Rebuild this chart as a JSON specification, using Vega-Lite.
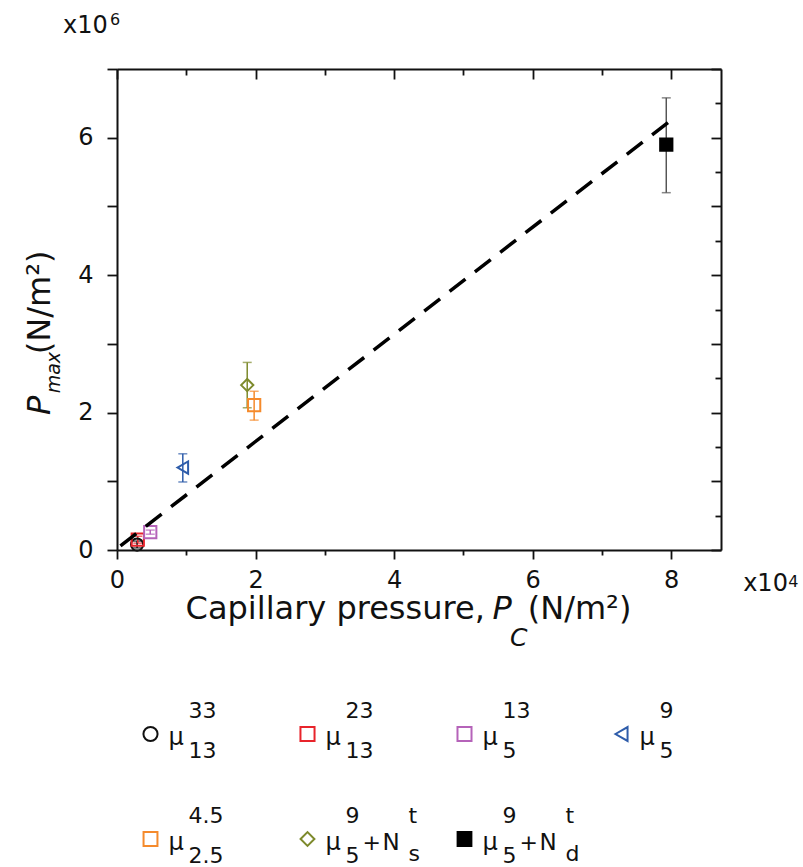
{
  "$schema": "https://vega.github.io/schema/vega-lite/v6.json",
  "autosize": {"type": "pad"},
  "padding": {"left": 24, "top": 12, "right": 5, "bottom": 5},
  "bounds": "flush",
  "spacing": 132,
  "resolve": {"scale": {"size": "independent"}},
  "datasets": {
    "pts": [
      {"series": "mu33_13", "x": 0.29, "y": 0.08, "ylo": 0.03, "yhi": 0.13, "sup": "33", "sub": "13", "plus": "", "n": "", "nsup": "", "nsub": ""},
      {"series": "mu23_13", "x": 0.30, "y": 0.15, "ylo": 0.10, "yhi": 0.20, "sup": "23", "sub": "13", "plus": "", "n": "", "nsup": "", "nsub": ""},
      {"series": "mu13_5", "x": 0.48, "y": 0.26, "ylo": 0.23, "yhi": 0.29, "sup": "13", "sub": "5", "plus": "", "n": "", "nsup": "", "nsub": ""},
      {"series": "mu9_5", "x": 0.95, "y": 1.20, "ylo": 0.99, "yhi": 1.40, "sup": "9", "sub": "5", "plus": "", "n": "", "nsup": "", "nsub": ""},
      {"series": "mu4.5_2.5", "x": 1.98, "y": 2.11, "ylo": 1.89, "yhi": 2.31, "sup": "4.5", "sub": "2.5", "plus": "", "n": "", "nsup": "", "nsub": ""},
      {"series": "mu9_5+Ns", "x": 1.88, "y": 2.40, "ylo": 2.07, "yhi": 2.73, "sup": "9", "sub": "5", "plus": "+", "n": "N", "nsup": "t", "nsub": "s"},
      {"series": "mu9_5+Nd", "x": 7.93, "y": 5.90, "ylo": 5.20, "yhi": 6.58, "sup": "9", "sub": "5", "plus": "+", "n": "N", "nsup": "t", "nsub": "d"}
    ],
    "fit": [
      {"x": 0.05, "y": 0.06},
      {"x": 8.07, "y": 6.31}
    ]
  },
  "vconcat": [
    {
      "width": 604,
      "height": 481,
      "data": {"name": "pts"},
      "layer": [
        {
          "layer": [
            {
              "mark": {"type": "errorbar", "ticks": true, "size": 9, "thickness": 1.5},
              "encoding": {
                "x": {"field": "x", "type": "quantitative", "scale": {"domain": [0, 8.72], "nice": false, "zero": false},
                  "axis": {"orient": "bottom", "title": null, "values": [0, 1, 2, 3, 4, 5, 6, 7, 8], "format": "d",
                    "labelExpr": "datum.value % 2 === 0 ? datum.label : ''",
                    "tickSize": {"condition": {"test": "datum.value % 2 === 0", "value": 9}, "value": 5},
                    "labelPadding": 9}},
                "y": {"field": "ylo", "type": "quantitative", "scale": {"domain": [0, 7], "nice": false, "zero": false},
                  "axis": {"orient": "left", "title": null, "values": [0, 0.5, 1, 1.5, 2, 2.5, 3, 3.5, 4, 4.5, 5, 5.5, 6, 6.5, 7], "format": "d",
                    "labelExpr": "datum.value % 2 === 0 ? datum.label : ''",
                    "tickSize": {"condition": {"test": "datum.value % 1 === 0", "value": 10}, "value": 6},
                    "labelPadding": 14}},
                "y2": {"field": "yhi"},
                "color": {"field": "series", "type": "nominal", "legend": null,
                  "scale": {"domain": ["mu33_13", "mu23_13", "mu13_5", "mu9_5", "mu4.5_2.5", "mu9_5+Ns", "mu9_5+Nd"],
                    "range": ["#111111", "#e8242b", "#b563b9", "#2e5caa", "#f58a2b", "#7d8a2c", "#555555"]}}
              }
            },
            {
              "mark": {"type": "point", "filled": true, "strokeWidth": 2, "opacity": 1},
              "encoding": {
                "x": {"field": "x", "type": "quantitative"},
                "y": {"field": "y", "type": "quantitative"},
                "shape": {"field": "series", "type": "nominal", "legend": null,
                  "scale": {"domain": ["mu33_13", "mu23_13", "mu13_5", "mu9_5", "mu4.5_2.5", "mu9_5+Ns", "mu9_5+Nd"],
                    "range": ["circle", "square", "square", "triangle-left", "square", "diamond", "square"]}},
                "stroke": {"field": "series", "type": "nominal", "legend": null,
                  "scale": {"domain": ["mu33_13", "mu23_13", "mu13_5", "mu9_5", "mu4.5_2.5", "mu9_5+Ns", "mu9_5+Nd"],
                    "range": ["#111111", "#e8242b", "#b563b9", "#2e5caa", "#f58a2b", "#7d8a2c", "#000000"]}},
                "fill": {"field": "series", "type": "nominal", "legend": null,
                  "scale": {"domain": ["mu33_13", "mu23_13", "mu13_5", "mu9_5", "mu4.5_2.5", "mu9_5+Ns", "mu9_5+Nd"],
                    "range": ["transparent", "transparent", "transparent", "transparent", "transparent", "transparent", "#000000"]}},
                "size": {"field": "series", "type": "nominal", "legend": null,
                  "scale": {"domain": ["mu33_13", "mu23_13", "mu13_5", "mu9_5", "mu4.5_2.5", "mu9_5+Ns", "mu9_5+Nd"],
                    "range": [150, 150, 150, 260, 150, 380, 170]}}
              }
            },
            {"data": {"values": [{}]}, "mark": {"type": "text", "text": "x10", "fontSize": 24, "align": "left", "baseline": "alphabetic"},
              "encoding": {"x": {"datum": -0.78}, "y": {"datum": 7.525}}},
            {"data": {"values": [{}]}, "mark": {"type": "text", "text": "6", "fontSize": 16, "align": "left", "baseline": "alphabetic"},
              "encoding": {"x": {"datum": -0.10}, "y": {"datum": 7.64}}},
            {"data": {"values": [{}]}, "mark": {"type": "text", "text": "x10", "fontSize": 24, "align": "left", "baseline": "alphabetic"},
              "encoding": {"x": {"datum": 9.04}, "y": {"datum": -0.597}}},
            {"data": {"values": [{}]}, "mark": {"type": "text", "text": "4", "fontSize": 16, "align": "left", "baseline": "alphabetic"},
              "encoding": {"x": {"datum": 9.69}, "y": {"datum": -0.54}}},
            {"data": {"values": [{}]}, "mark": {"type": "text", "text": "Capillary pressure,", "fontSize": 32, "align": "right", "baseline": "alphabetic"},
              "encoding": {"x": {"datum": 5.31}, "y": {"datum": -1.0}}},
            {"data": {"values": [{}]}, "mark": {"type": "text", "text": "P", "fontSize": 32, "fontStyle": "italic", "align": "left", "baseline": "alphabetic"},
              "encoding": {"x": {"datum": 5.42}, "y": {"datum": -1.0}}},
            {"data": {"values": [{}]}, "mark": {"type": "text", "text": "C", "fontSize": 25, "fontStyle": "italic", "align": "left", "baseline": "alphabetic"},
              "encoding": {"x": {"datum": 5.672}, "y": {"datum": -1.40}}},
            {"data": {"values": [{}]}, "mark": {"type": "text", "text": "(N/m²)", "fontSize": 32, "align": "left", "baseline": "alphabetic"},
              "encoding": {"x": {"datum": 5.93}, "y": {"datum": -1.0}}},
            {"data": {"values": [{}]}, "mark": {"type": "text", "text": "P", "fontSize": 32, "fontStyle": "italic", "angle": 270, "align": "left", "baseline": "alphabetic"},
              "encoding": {"x": {"datum": -0.967}, "y": {"datum": 1.965}}},
            {"data": {"values": [{}]}, "mark": {"type": "text", "text": "max", "fontSize": 19, "fontStyle": "italic", "angle": 270, "align": "left", "baseline": "alphabetic"},
              "encoding": {"x": {"datum": -0.83}, "y": {"datum": 2.28}}},
            {"data": {"values": [{}]}, "mark": {"type": "text", "text": "(N/m²)", "fontSize": 32, "angle": 270, "align": "left", "baseline": "alphabetic"},
              "encoding": {"x": {"datum": -0.967}, "y": {"datum": 2.85}}}
          ]
        },
        {
          "data": {"name": "fit"},
          "mark": {"type": "line", "strokeDash": [20, 12], "strokeWidth": 3.5, "color": "#000000"},
          "encoding": {
            "x": {"field": "x", "type": "quantitative", "scale": {"domain": [0, 8.72], "nice": false, "zero": false},
              "axis": {"orient": "top", "title": null, "labels": false, "values": [0, 1, 2, 3, 4, 5, 6, 7, 8],
                "tickSize": {"condition": {"test": "datum.value % 2 === 0", "value": -10}, "value": -6}}},
            "y": {"field": "y", "type": "quantitative", "scale": {"domain": [0, 7], "nice": false, "zero": false},
              "axis": {"orient": "right", "title": null, "labels": false, "values": [0, 0.5, 1, 1.5, 2, 2.5, 3, 3.5, 4, 4.5, 5, 5.5, 6, 6.5, 7],
                "tickSize": {"condition": {"test": "datum.value % 1 === 0", "value": -10}, "value": -6}}}
          }
        }
      ],
      "resolve": {"axis": {"x": "independent", "y": "independent"}}
    },
    {
      "data": {"name": "pts"},
      "facet": {"field": "series", "type": "nominal", "title": null,
        "header": {"labels": false, "labelExpr": "''", "labelFontSize": 1, "labelPadding": 0, "title": null},
        "sort": ["mu33_13", "mu23_13", "mu13_5", "mu9_5", "mu4.5_2.5", "mu9_5+Ns", "mu9_5+Nd"]},
      "columns": 4,
      "spacing": {"row": 0, "column": 0},
      "spec": {
        "width": 157,
        "height": 104,
        "layer": [
          {
            "mark": {"type": "point", "filled": true, "strokeWidth": 2, "opacity": 1, "xOffset": -45},
            "encoding": {
              "shape": {"field": "series", "type": "nominal", "legend": null,
                "scale": {"domain": ["mu33_13", "mu23_13", "mu13_5", "mu9_5", "mu4.5_2.5", "mu9_5+Ns", "mu9_5+Nd"],
                  "range": ["circle", "square", "square", "triangle-left", "square", "diamond", "square"]}},
              "stroke": {"field": "series", "type": "nominal", "legend": null,
                "scale": {"domain": ["mu33_13", "mu23_13", "mu13_5", "mu9_5", "mu4.5_2.5", "mu9_5+Ns", "mu9_5+Nd"],
                  "range": ["#111111", "#e8242b", "#b563b9", "#2e5caa", "#f58a2b", "#7d8a2c", "#000000"]}},
              "fill": {"field": "series", "type": "nominal", "legend": null,
                "scale": {"domain": ["mu33_13", "mu23_13", "mu13_5", "mu9_5", "mu4.5_2.5", "mu9_5+Ns", "mu9_5+Nd"],
                  "range": ["transparent", "transparent", "transparent", "transparent", "transparent", "transparent", "#000000"]}},
              "size": {"field": "series", "type": "nominal", "legend": null,
                "scale": {"domain": ["mu33_13", "mu23_13", "mu13_5", "mu9_5", "mu4.5_2.5", "mu9_5+Ns", "mu9_5+Nd"],
                  "range": [200, 190, 170, 300, 170, 380, 196]}}
            }
          },
          {"mark": {"type": "text", "text": "μ", "fontSize": 24, "align": "left", "baseline": "alphabetic", "xOffset": -27, "yOffset": 11}, "encoding": {}},
          {"mark": {"type": "text", "fontSize": 22, "align": "left", "baseline": "alphabetic", "xOffset": -7, "yOffset": -16}, "encoding": {"text": {"field": "sup"}}},
          {"mark": {"type": "text", "fontSize": 22, "align": "left", "baseline": "alphabetic", "xOffset": -7, "yOffset": 24}, "encoding": {"text": {"field": "sub"}}},
          {"mark": {"type": "text", "fontSize": 22, "align": "left", "baseline": "alphabetic", "xOffset": 10, "yOffset": 11}, "encoding": {"text": {"field": "plus"}}},
          {"mark": {"type": "text", "fontSize": 23, "align": "left", "baseline": "alphabetic", "xOffset": 30, "yOffset": 11}, "encoding": {"text": {"field": "n"}}},
          {"mark": {"type": "text", "fontSize": 22, "align": "left", "baseline": "alphabetic", "xOffset": 56, "yOffset": -16}, "encoding": {"text": {"field": "nsup"}}},
          {"mark": {"type": "text", "fontSize": 22, "align": "left", "baseline": "alphabetic", "xOffset": 56, "yOffset": 22}, "encoding": {"text": {"field": "nsub"}}}
        ]
      }
    }
  ],
  "config": {
    "view": {"stroke": null},
    "font": "DejaVu Sans",
    "header": {"labels": false, "title": null, "labelPadding": 0, "titlePadding": 0},
    "axis": {"labelFont": "DejaVu Sans", "labelFontSize": 24, "labelColor": "#111111", "domainColor": "#111111", "domainWidth": 2,
      "tickColor": "#111111", "tickWidth": 1.8, "grid": false, "labelFlush": false, "labelOverlap": false},
    "text": {"font": "DejaVu Sans", "color": "#111111"}
  }
}
